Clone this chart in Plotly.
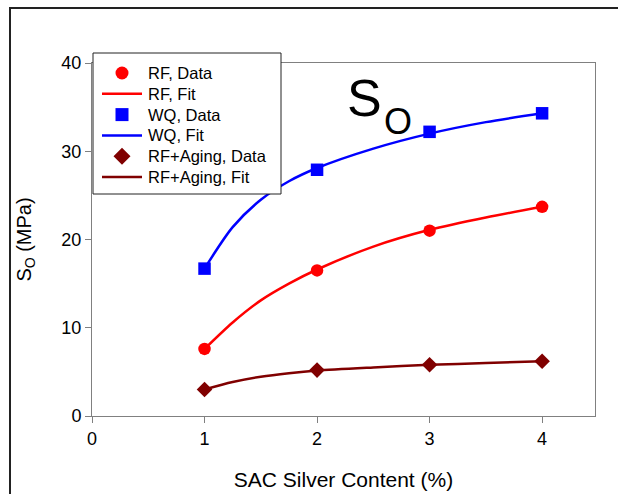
import plotly.graph_objects as go

# Silver content of the SAC alloys (%)
silver = [1, 2, 3, 4]

# Measured So (MPa) for each processing condition
rf_data = [7.6, 16.5, 21.0, 23.7]
wq_data = [16.7, 27.9, 32.2, 34.3]
aging_data = [3.0, 5.2, 5.8, 6.2]

# Fitted curves, sampled along the silver-content axis
fit_x = [1, 1.25, 1.5, 1.75, 2, 2.5, 3, 3.5, 4]
rf_fit = [7.6, 10.6, 13.1, 15.0, 16.6, 19.2, 21.1, 22.5, 23.7]
wq_fit = [16.7, 21.4, 24.5, 26.6, 28.1, 30.3, 32.0, 33.3, 34.3]
aging_fit = [3.0, 3.85, 4.45, 4.85, 5.15, 5.5, 5.8, 6.0, 6.2]

legend_labels = ["RF, Data", "RF, Fit", "WQ, Data", "WQ, Fit",
                 "RF+Aging, Data", "RF+Aging, Fit"]

RED = "#ff0000"
BLUE = "#0000ff"
MAROON = "#800000"
FONT = "Arial, Liberation Sans, sans-serif"

W, H = 618, 494
L, R, T, B = 92, 23, 63, 78
pw, ph = W - L - R, H - T - B


def px_x(p):
    return (p - L) / pw


def px_y(p):
    return (H - B - p) / ph


fig = go.Figure()

series = [
    ("RF", rf_data, rf_fit, RED, "circle", 12.5),
    ("WQ", wq_data, wq_fit, BLUE, "square", 12.5),
    ("RF+Aging", aging_data, aging_fit, MAROON, "diamond", 12),
]

for name, data, fit, color, symbol, size in series:
    fig.add_trace(go.Scatter(
        x=fit_x, y=fit, mode="lines", name=f"{name}, Fit",
        line=dict(color=color, width=2.5, shape="spline", smoothing=0.8),
        showlegend=False,
    ))
for name, data, fit, color, symbol, size in series:
    fig.add_trace(go.Scatter(
        x=silver, y=data, mode="markers", name=f"{name}, Data",
        marker=dict(color=color, symbol=symbol, size=size, line=dict(width=0)),
        showlegend=False,
    ))

axis_common = dict(
    showline=True, linecolor="#808080", linewidth=1, mirror=True,
    ticks="outside", ticklen=6, tickcolor="#808080", tickwidth=1,
    showgrid=False, zeroline=False, automargin=False,
    tickfont=dict(family=FONT, size=18, color="black"),
)

# Boxed legend drawn in pixel layout units
shapes = [
    dict(type="rect", xref="paper", yref="paper",
         x0=px_x(10), x1=px_x(700), y0=px_y(600), y1=px_y(8),
         line=dict(color="#222222", width=2), layer="below"),
    dict(type="rect", xref="paper", yref="paper",
         x0=px_x(93), x1=px_x(281), y0=px_y(194), y1=px_y(53),
         fillcolor="white", line=dict(color="#222222", width=1), layer="above"),
]
annotations = []

row0, row_step = 73, 20.8
sym_cx = 122
colors = [RED, RED, BLUE, BLUE, MAROON, MAROON]
kinds = ["circle", "line", "square", "line", "diamond", "line"]
for i, label in enumerate(legend_labels):
    cy = row0 + i * row_step
    color = colors[i]
    kind = kinds[i]
    if kind == "line":
        shapes.append(dict(type="line", xref="paper", yref="paper",
                           x0=px_x(102), x1=px_x(142), y0=px_y(cy), y1=px_y(cy),
                           line=dict(color=color, width=2.5), layer="above"))
    elif kind == "circle":
        r = 6.5
        shapes.append(dict(type="circle", xref="paper", yref="paper",
                           x0=px_x(sym_cx - r), x1=px_x(sym_cx + r),
                           y0=px_y(cy + r), y1=px_y(cy - r),
                           fillcolor=color, line=dict(width=0), layer="above"))
    elif kind == "square":
        r = 6.5
        shapes.append(dict(type="rect", xref="paper", yref="paper",
                           x0=px_x(sym_cx - r), x1=px_x(sym_cx + r),
                           y0=px_y(cy + r), y1=px_y(cy - r),
                           fillcolor=color, line=dict(width=0), layer="above"))
    else:
        r = 8.5
        path = (f"M {px_x(sym_cx - r)},{px_y(cy)} L {px_x(sym_cx)},{px_y(cy - r)} "
                f"L {px_x(sym_cx + r)},{px_y(cy)} L {px_x(sym_cx)},{px_y(cy + r)} Z")
        shapes.append(dict(type="path", xref="paper", yref="paper", path=path,
                           fillcolor=color, line=dict(width=0), layer="above"))
    annotations.append(dict(
        x=px_x(146), y=px_y(cy), xref="paper", yref="paper",
        xanchor="left", yanchor="middle", showarrow=False,
        text=label, font=dict(family=FONT, size=16.5, color="black"),
    ))

# Large "S" with subscript "O" inside the plot
annotations.append(dict(
    x=px_x(345), y=px_y(98), xref="paper", yref="paper",
    xanchor="left", yanchor="middle", showarrow=False,
    text="S", font=dict(family=FONT, size=52, color="black"),
))
annotations.append(dict(
    x=px_x(397.5), y=px_y(121), xref="paper", yref="paper",
    xanchor="center", yanchor="middle", showarrow=False,
    text="O", font=dict(family=FONT, size=36, color="black"),
))

fig.update_layout(
    width=W, height=H,
    margin=dict(l=L, r=R, t=T, b=B),
    paper_bgcolor="white", plot_bgcolor="white",
    font=dict(family=FONT, color="black"),
    showlegend=False,
    xaxis=dict(
        range=[0, 4.47], tickvals=[0, 1, 2, 3, 4],
        title=dict(text="SAC Silver Content (%)", font=dict(family=FONT, size=21), standoff=24),
        **axis_common,
    ),
    yaxis=dict(
        range=[0, 40], tickvals=[0, 10, 20, 30, 40],
        title=dict(text="S<sub>O</sub> (MPa)", font=dict(family=FONT, size=20), standoff=24),
        **axis_common,
    ),
    shapes=shapes,
    annotations=annotations,
)

fig.write_html("out.html")
